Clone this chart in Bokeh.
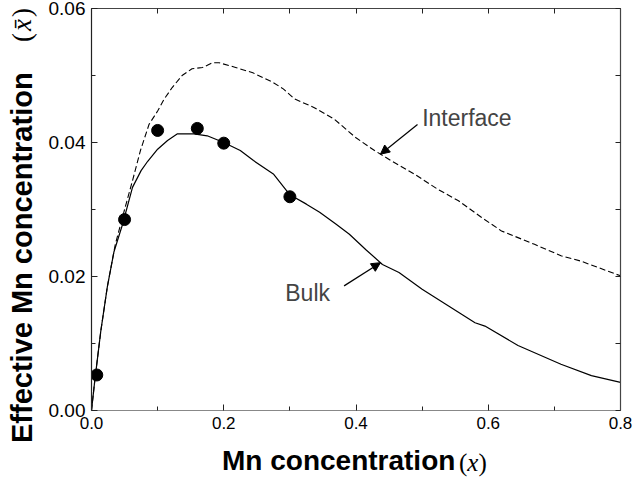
import numpy as np
from bokeh.plotting import figure
from bokeh.layouts import row, column
from bokeh.models import (Range1d, FixedTicker, PrintfTickFormatter, LinearAxis,
                          Label, Arrow, NormalHead, Div)
from bokeh.embed import file_html
from bokeh.resources import INLINE

# Simulated effective Mn concentration in the bulk (solid curve)
bulk_x = [0.0, 0.005, 0.014, 0.024, 0.034, 0.047, 0.062, 0.075, 0.085, 0.10,
          0.115, 0.13, 0.155, 0.175, 0.20, 0.225, 0.245, 0.275, 0.30, 0.325,
          0.345, 0.37, 0.39, 0.415, 0.44, 0.465, 0.50, 0.54, 0.58, 0.595,
          0.645, 0.71, 0.756, 0.80]
bulk_y = [0.0, 0.0045, 0.0118, 0.0185, 0.0237, 0.0278, 0.0333, 0.0358, 0.0372, 0.0390,
          0.0403, 0.0413, 0.0413, 0.0410, 0.0400, 0.0388, 0.0373, 0.0353, 0.0322, 0.0308,
          0.0296, 0.0278, 0.0263, 0.0240, 0.0218, 0.0206, 0.0181, 0.0156, 0.0131, 0.0126,
          0.0097, 0.0069, 0.0052, 0.0042]

# Effective Mn concentration at the interface (dashed curve)
iface_x = [0.0, 0.005, 0.014, 0.024, 0.036, 0.05, 0.062, 0.074, 0.087, 0.10,
           0.11, 0.122, 0.137, 0.152, 0.168, 0.183, 0.193, 0.218, 0.244, 0.274,
           0.29, 0.307, 0.337, 0.367, 0.40, 0.428, 0.453, 0.488, 0.524, 0.555,
           0.59, 0.62, 0.67, 0.71, 0.74, 0.80]
iface_y = [0.0, 0.0045, 0.0118, 0.0185, 0.0248, 0.0300, 0.0343, 0.0388, 0.0427, 0.0447,
           0.0465, 0.0482, 0.0500, 0.0510, 0.0512, 0.0519, 0.0519, 0.0512, 0.0504, 0.0490,
           0.0480, 0.0465, 0.0452, 0.0435, 0.0407, 0.0388, 0.0373, 0.0353, 0.0330, 0.0313,
           0.0288, 0.0268, 0.0248, 0.0231, 0.0223, 0.0201]

# Measured points
meas_x = [0.008, 0.05, 0.10, 0.16, 0.20, 0.30]
meas_y = [0.0053, 0.0285, 0.0418, 0.0421, 0.0399, 0.0319]

x_ticks = [0.0, 0.2, 0.4, 0.6, 0.8]
x_minor = [0.1, 0.3, 0.5, 0.7]
y_ticks = [0.0, 0.02, 0.04, 0.06]
y_minor = [0.01, 0.03, 0.05]

x_title = "Mn concentration"
y_title = "Effective Mn concentration"

SANS = "Liberation Sans"
SERIF = "Liberation Serif"

p = figure(width=593, height=440, output_backend="svg", toolbar_location=None,
           x_range=Range1d(0.0, 0.8), y_range=Range1d(0.0, 0.06),
           min_border_left=51, min_border_right=13, min_border_top=8,
           min_border_bottom=30, margin=0)
p.outline_line_color = None
p.grid.visible = False
p.background_fill_color = "white"
p.border_fill_color = "white"


def style_axis(ax, ticks, minor, fmt, color, size):
    ax.ticker = FixedTicker(ticks=ticks, minor_ticks=minor)
    ax.formatter = PrintfTickFormatter(format=fmt)
    ax.axis_line_color = color
    ax.axis_line_width = 1.2
    ax.major_tick_in = 6
    ax.major_tick_out = 0
    ax.minor_tick_in = 4
    ax.minor_tick_out = 0
    ax.major_tick_line_color = "#222222"
    ax.minor_tick_line_color = "#222222"
    ax.major_label_text_font = SANS
    ax.major_label_text_font_size = size
    ax.major_label_text_color = "black"
    ax.major_label_standoff = 6


def mirror_axis(ticks, minor):
    # unlabeled opposite axis: every tick drawn as a short inward mark
    ax = LinearAxis(ticker=FixedTicker(ticks=[], minor_ticks=sorted(ticks + minor)))
    ax.axis_line_color = "#444444"
    ax.axis_line_width = 1.2
    ax.minor_tick_in = 5
    ax.minor_tick_out = 0
    ax.minor_tick_line_color = "#222222"
    ax.major_tick_line_color = None
    return ax


style_axis(p.xaxis[0], x_ticks, x_minor, "%.1f", "#888888", "17px")
style_axis(p.yaxis[0], y_ticks, y_minor, "%.2f", "#222222", "19px")
p.add_layout(mirror_axis(x_ticks, x_minor), "above")
p.add_layout(mirror_axis(y_ticks, y_minor), "right")

# Curves and measured points
p.line(iface_x, iface_y, line_color="black", line_width=1.1, line_dash="6 3")
p.line(bulk_x, bulk_y, line_color="black", line_width=1.2)
p.scatter(meas_x, meas_y, size=12, marker="circle", fill_color="black", line_color="black")

# Curve annotations with arrows pointing at each curve
ann_x = 0.437
iface_tip = float(np.interp(ann_x, iface_x, iface_y))
bulk_tip = float(np.interp(ann_x, bulk_x, bulk_y))
p.add_layout(Arrow(end=NormalHead(size=9, fill_color="black", line_color="black"),
                   x_start=0.493, y_start=0.0427, x_end=ann_x, y_end=iface_tip,
                   line_color="black", line_width=1.2))
p.add_layout(Arrow(end=NormalHead(size=9, fill_color="black", line_color="black"),
                   x_start=0.382, y_start=0.0186, x_end=ann_x, y_end=bulk_tip,
                   line_color="black", line_width=1.2))
p.add_layout(Label(x=0.5, y=0.0437, text="Interface", text_font=SANS,
                   text_font_size="23px", text_baseline="middle", text_align="left"))
p.add_layout(Label(x=0.293, y=0.0175, text="Bulk", text_font=SANS,
                   text_font_size="23px", text_baseline="middle", text_align="left"))


# Axis titles as HTML so the bold sans words and the serif symbol share one line
def piece(text, left, top, family, size, bold=False, vertical=False, extra=""):
    style = (f"position:absolute;left:{left}px;top:{top}px;white-space:nowrap;"
             f"line-height:1;font-family:'{family}';font-size:{size}px;color:black;"
             f"font-weight:{'bold' if bold else 'normal'};")
    if vertical:
        style += "transform-origin:0 0;transform:rotate(-90deg);"
    return f'<div style="{style}{extra}">{text}</div>'


y_html = ('<div style="position:relative;width:40px;height:478px;">'
          + piece(y_title, 7.5, 443, SANS, 29, bold=True, vertical=True)
          + piece("(<i>x&#772;</i>)", 9.4, 42, SERIF, 27, vertical=True,
                  extra="letter-spacing:2px;")
          + '</div>')
x_html = ('<div style="position:relative;width:593px;height:38px;">'
          + piece(x_title, 182, 7.3, SANS, 28, bold=True)
          + piece("(<i>x</i>)", 419, 10.1, SERIF, 25)
          + '</div>')

y_div = Div(text=y_html, width=40, height=478, margin=0)
x_div = Div(text=x_html, width=593, height=38, margin=0)

layout = row(y_div, column(p, x_div, spacing=0), spacing=0)

open("out.html", "w").write(file_html(layout, INLINE))
